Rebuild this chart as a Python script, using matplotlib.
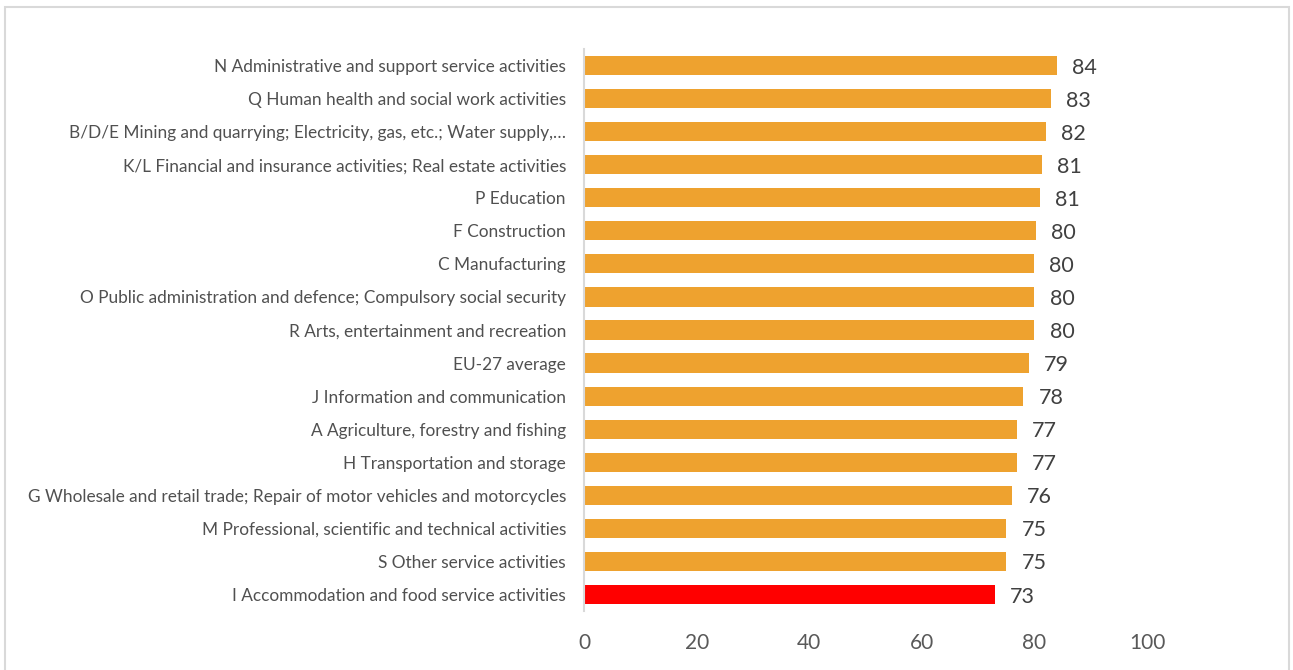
import matplotlib
matplotlib.use("Agg")
import matplotlib.pyplot as plt
from matplotlib.patches import Rectangle

categories = [
    "N Administrative and support service activities",
    "Q Human health and social work activities",
    "B/D/E Mining and quarrying; Electricity, gas, etc.; Water supply,\u2026",
    "K/L Financial and insurance activities; Real estate activities",
    "P Education",
    "F Construction",
    "C Manufacturing",
    "O Public administration and defence; Compulsory social security",
    "R Arts, entertainment and recreation",
    "EU-27 average",
    "J Information and communication",
    "A Agriculture, forestry and fishing",
    "H Transportation and storage",
    "G Wholesale and retail trade; Repair of motor vehicles and motorcycles",
    "M Professional, scientific and technical activities",
    "S Other service activities",
    "I Accommodation and food service activities",
]
values = [84.0, 82.9, 82.0, 81.3, 81.0, 80.3, 79.9, 80.0, 80.0, 79.0,
          78.0, 76.9, 76.9, 76.0, 75.0, 75.0, 73.0]
highlight = "I Accommodation and food service activities"
x_ticks = [0, 20, 40, 60, 80, 100]

ORANGE = "#EEA22F"
RED = "#FF0000"
FONT = "Lato"

fig = plt.figure(figsize=(12.93, 6.70), dpi=100)
ax = fig.add_axes([0.4517, 0.0881, 0.4354, 0.8388])

ypos = list(range(len(categories)))
colors = [RED if c == highlight else ORANGE for c in categories]
bars = ax.barh(ypos, values, height=0.58, color=colors)

for bar, v in zip(bars, values):
    ax.annotate(f"{v:.0f}", xy=(bar.get_width(), bar.get_y() + bar.get_height() / 2),
                xytext=(11, -1.5), textcoords="offset points", ha="left", va="center",
                fontsize=15.5, color="#404040", family=FONT)

ax.set_xlim(0, 100)
ax.set_ylim(len(categories) - 0.5, -0.5)
ax.set_yticks(ypos)
ax.set_yticklabels(categories, fontsize=12.4, color="#505050", family=FONT)
ax.set_xticks(x_ticks)
ax.set_xticklabels([str(t) for t in x_ticks], fontsize=15, color="#595959", family=FONT)
ax.tick_params(axis="y", length=0, pad=13)
ax.tick_params(axis="x", length=0, pad=16)

for s in ["top", "right", "bottom"]:
    ax.spines[s].set_visible(False)
ax.spines["left"].set_color("#D9D9D9")
ax.spines["left"].set_linewidth(1.5)

# outer chart frame
fig.patches.append(Rectangle((5 / 1293, -0.05), 1284 / 1293, 1.05 - 7 / 670,
                             transform=fig.transFigure, fill=False,
                             edgecolor="#D9D9D9", linewidth=1.5))

fig.savefig("out.png", dpi=100, facecolor="white")
